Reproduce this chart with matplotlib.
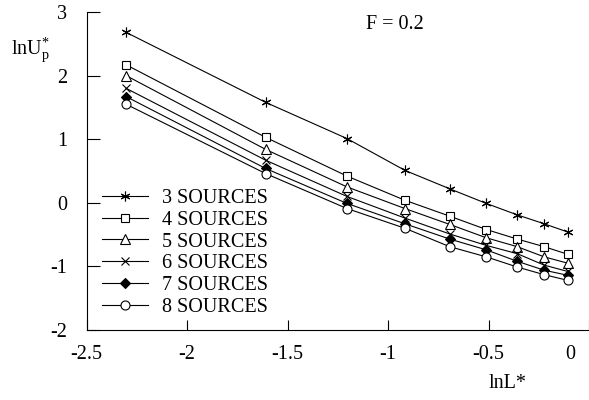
import numpy as np
import matplotlib
matplotlib.use('Agg')
import matplotlib.pyplot as plt
from matplotlib.transforms import ScaledTranslation

plt.rcParams['font.family'] = ['Liberation Serif', 'DejaVu Serif']
plt.rcParams['mathtext.fontset'] = 'custom'
plt.rcParams['mathtext.rm'] = 'Liberation Serif'
plt.rcParams['mathtext.it'] = 'Liberation Serif'

# lnL* for L* = 0.1 ... 0.9
lnL = [-2.303, -1.609, -1.204, -0.916, -0.693, -0.511, -0.357, -0.223, -0.105]

s3 = [2.68, 1.58, 1.01, 0.51, 0.22, -0.01, -0.19, -0.33, -0.46]
s4 = [2.17, 1.03, 0.42, 0.04, -0.21, -0.42, -0.57, -0.69, -0.81]
s5 = [2.00, 0.84, 0.25, -0.09, -0.34, -0.55, -0.69, -0.85, -0.95]
s6 = [1.80, 0.67, 0.10, -0.24, -0.49, -0.67, -0.80, -0.98, -1.08]
s7 = [1.67, 0.54, -0.01, -0.33, -0.57, -0.74, -0.92, -1.06, -1.14]
s8 = [1.55, 0.46, -0.09, -0.40, -0.69, -0.85, -1.01, -1.13, -1.22]

labels = ['3 SOURCES', '4 SOURCES', '5 SOURCES', '6 SOURCES', '7 SOURCES', '8 SOURCES']
series = [s3, s4, s5, s6, s7, s8]
markers = [(6, 2, 0), 's', '^', 'x', 'D', 'o']
msizes = [7, 6, 7, 6, 5, 6.5]
faces = ['k', 'white', 'white', 'k', 'k', 'white']

fig = plt.figure(figsize=(5.89, 4.0), dpi=100)
ax = fig.add_axes([86.5/589, 1-330/400, 1-86.5/589, 318/400])

for ys, lab, m, ms, fc in zip(series, labels, markers, msizes, faces):
    ax.plot(lnL, ys, color='k', lw=0.8, marker=m, markersize=ms,
            markerfacecolor=fc, markeredgecolor='k', markeredgewidth=0.8, label=lab)

ax.set_xlim(-2.5, 0)
ax.set_ylim(-2, 3)
ax.set_xticks([-2.5, -2, -1.5, -1, -0.5, 0])
ax.set_xticklabels(['-2.5', '-2', '-1.5', '-1', '-0.5', '0'])
ax.set_yticks([-2, -1, 0, 1, 2, 3])
ax.set_yticklabels(['-2', '-1', '0', '1', '2', '3'])
ax.tick_params(axis='x', direction='in', length=7, width=0.8, pad=11, labelsize=14.5)
ax.tick_params(axis='y', direction='in', length=9.5, width=0.8, pad=14, labelsize=14.5)
for sp in ['top', 'right']:
    ax.spines[sp].set_visible(False)
for sp in ['left', 'bottom']:
    ax.spines[sp].set_linewidth(0.8)

# the "0" label sits a bit inside the right edge
lab0 = ax.get_xticklabels()[-1]
lab0.set_transform(lab0.get_transform() + ScaledTranslation(-0.19, 0, fig.dpi_scale_trans))

ax.text(-0.965, 2.81, 'F = 0.2', fontsize=14.5, ha='center', va='center')
fig.text(30/589, 1-50/400, r'lnU$_\mathregular{p}^\mathregular{*}$', fontsize=14.5, ha='center', va='center')
fig.text(508/589, 1-384/400, 'lnL*', fontsize=14.5, ha='center', va='center')

leg = ax.legend(loc='upper left', bbox_to_anchor=(0.01, 0.475), frameon=False,
                fontsize=14.5, handlelength=2.3, handletextpad=0.7,
                labelspacing=0.13, borderpad=0.2, borderaxespad=0.3)

fig.savefig('out.png', dpi=100)
